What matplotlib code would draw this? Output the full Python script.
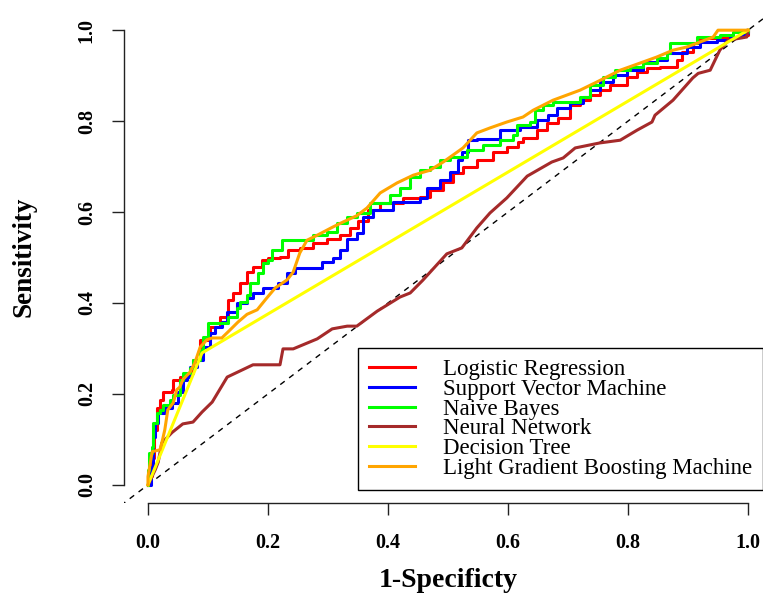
import matplotlib.pyplot as plt

# ROC curves: (1-specificity, sensitivity)
lr_fpr = [0, 0.003, 0.007, 0.01, 0.015, 0.02, 0.025, 0.04, 0.042, 0.053, 0.062, 0.07, 0.075, 0.087, 0.103, 0.12, 0.133,
          0.142, 0.153, 0.165, 0.175, 0.19, 0.2, 0.22, 0.233, 0.253, 0.275, 0.298, 0.32, 0.337, 0.35, 0.367, 0.387,
          0.425, 0.453, 0.47, 0.492, 0.508, 0.525, 0.548, 0.575, 0.598, 0.617, 0.625, 0.648, 0.665, 0.683, 0.703,
          0.72, 0.737, 0.753, 0.77, 0.798, 0.815, 0.832, 0.853, 0.882, 0.89, 0.908, 0.92, 0.96, 0.99, 1]
lr_tpr = [0, 0.02, 0.06, 0.12, 0.17, 0.187, 0.204, 0.209, 0.231, 0.237, 0.24, 0.246, 0.275, 0.319, 0.347, 0.369, 0.407,
          0.422, 0.444, 0.468, 0.479, 0.495, 0.499, 0.501, 0.516, 0.521, 0.532, 0.54, 0.549, 0.565, 0.58, 0.604, 0.62,
          0.631, 0.633, 0.648, 0.666, 0.686, 0.699, 0.714, 0.732, 0.743, 0.754, 0.763, 0.78, 0.796, 0.807, 0.835,
          0.846, 0.857, 0.868, 0.879, 0.897, 0.908, 0.916, 0.919, 0.934, 0.952, 0.971, 0.982, 0.985, 0.99, 1]

svm_fpr = [0, 0.005, 0.008, 0.012, 0.017, 0.028, 0.04, 0.05, 0.058, 0.065, 0.07, 0.082, 0.092, 0.103, 0.112, 0.123,
           0.132, 0.148, 0.165, 0.175, 0.192, 0.217, 0.232, 0.245, 0.283, 0.29, 0.308, 0.32, 0.332, 0.348, 0.358,
           0.375, 0.408, 0.453, 0.465, 0.487, 0.503, 0.517, 0.523, 0.533, 0.548, 0.587, 0.62, 0.648, 0.667, 0.682,
           0.703, 0.725, 0.737, 0.753, 0.775, 0.798, 0.825, 0.848, 0.865, 0.89, 0.898, 0.92, 0.948, 0.97, 0.992, 1]
svm_tpr = [0, 0.04, 0.105, 0.136, 0.158, 0.169, 0.18, 0.204, 0.231, 0.237, 0.259, 0.275, 0.303, 0.334, 0.347, 0.358,
           0.38, 0.4, 0.411, 0.422, 0.433, 0.444, 0.466, 0.477, 0.477, 0.49, 0.499, 0.516, 0.54, 0.554, 0.59,
           0.604, 0.622, 0.631, 0.653, 0.67, 0.688, 0.714, 0.732, 0.758, 0.76, 0.78, 0.787, 0.802, 0.813, 0.829,
           0.84, 0.853, 0.868, 0.886, 0.901, 0.912, 0.93, 0.934, 0.949, 0.949, 0.963, 0.974, 0.978, 0.985, 0.993, 1]

nb_fpr = [0, 0, 0.002, 0.007, 0.008, 0.015, 0.02, 0.025, 0.037, 0.042, 0.053, 0.058, 0.07, 0.075, 0.087, 0.092, 0.1,
          0.12, 0.133, 0.148, 0.153, 0.165, 0.17, 0.183, 0.192, 0.2, 0.207, 0.217, 0.223, 0.265, 0.275, 0.298, 0.315,
          0.332, 0.348, 0.37, 0.403, 0.42, 0.437, 0.453, 0.47, 0.487, 0.503, 0.532, 0.558, 0.587, 0.608, 0.615,
          0.637, 0.645, 0.658, 0.675, 0.72, 0.737, 0.758, 0.778, 0.803, 0.825, 0.848, 0.865, 0.87, 0.892, 0.915,
          0.953, 0.975, 1]
nb_tpr = [0, 0.033, 0.07, 0.084, 0.136, 0.158, 0.165, 0.176, 0.187, 0.198, 0.231, 0.246, 0.257, 0.275, 0.297, 0.325,
          0.356, 0.356, 0.369, 0.389, 0.402, 0.418, 0.444, 0.466, 0.488, 0.495, 0.516, 0.516, 0.538, 0.538, 0.549,
          0.556, 0.576, 0.589, 0.598, 0.62, 0.637, 0.653, 0.677, 0.692, 0.699, 0.714, 0.721, 0.736, 0.747, 0.758,
          0.769, 0.791, 0.798, 0.824, 0.835, 0.842, 0.853, 0.879, 0.897, 0.912, 0.919, 0.927, 0.938, 0.949, 0.971,
          0.971, 0.985, 0.989, 0.996, 1]

nn_fpr = [0, 0.012, 0.017, 0.023, 0.04, 0.058, 0.075, 0.09, 0.107, 0.132, 0.175, 0.22, 0.225, 0.242, 0.282, 0.307,
          0.332, 0.348, 0.382, 0.42, 0.437, 0.458, 0.498, 0.523, 0.548, 0.57, 0.598, 0.632, 0.673, 0.692, 0.712,
          0.753, 0.787, 0.815, 0.84, 0.845, 0.875, 0.908, 0.917, 0.937, 0.953, 0.967, 0.998, 1]
nn_tpr = [0, 0.033, 0.05, 0.092, 0.115, 0.134, 0.138, 0.16, 0.182, 0.237, 0.264, 0.264, 0.299, 0.299, 0.321, 0.343,
          0.349, 0.349, 0.382, 0.413, 0.422, 0.45, 0.508, 0.521, 0.565, 0.598, 0.631, 0.679, 0.71, 0.719, 0.741,
          0.752, 0.758, 0.78, 0.798, 0.813, 0.846, 0.895, 0.905, 0.912, 0.956, 0.978, 0.985, 1]

dt_fpr = [0, 0.09, 1]
dt_tpr = [0, 0.29, 1]

lgbm_fpr = [0, 0, 0.007, 0.02, 0.023, 0.028, 0.033, 0.042, 0.048, 0.053, 0.058, 0.07, 0.078, 0.087, 0.098, 0.107,
            0.123, 0.137, 0.15, 0.165, 0.182, 0.198, 0.212, 0.232, 0.242, 0.253, 0.265, 0.282, 0.308, 0.325, 0.348,
            0.365, 0.387, 0.415, 0.442, 0.47, 0.492, 0.525, 0.548, 0.57, 0.598, 0.625, 0.642, 0.675, 0.72, 0.748,
            0.787, 0.825, 0.848, 0.875, 0.898, 0.942, 0.95, 1]
lgbm_tpr = [0, 0.018, 0.073, 0.077, 0.092, 0.121, 0.165, 0.18, 0.209, 0.215, 0.231, 0.248, 0.268, 0.303, 0.319, 0.323,
            0.323, 0.341, 0.358, 0.375, 0.385, 0.411, 0.433, 0.451, 0.468, 0.51, 0.538, 0.549, 0.567, 0.578, 0.592,
            0.609, 0.642, 0.664, 0.681, 0.692, 0.71, 0.741, 0.774, 0.785, 0.798, 0.809, 0.824, 0.846, 0.868, 0.886,
            0.912, 0.93, 0.941, 0.956, 0.963, 0.985, 1.0, 1]

labels = ["Logistic Regression", "Support Vector Machine", "Naive Bayes",
          "Neural Network", "Decision Tree", "Light Gradient Boosting Machine"]
colors = ["#FF0000", "#0000FF", "#00FF00", "#A52A2A", "#FFFF00", "#FFA500"]
ticks = [0.0, 0.2, 0.4, 0.6, 0.8, 1.0]

serif = ["Liberation Serif", "DejaVu Serif"]

fig = plt.figure(figsize=(7.63, 6.01), dpi=100)
ax = fig.add_axes([124 / 763, 98 / 601, 648 / 763, 491 / 601])
ax.set_xlim(-0.04, 1.04)
ax.set_ylim(-0.04, 1.04)

ax.plot([-0.06, 1.06], [-0.06, 1.06], color="black", lw=1.0, dashes=(4, 4), zorder=1)

lw = 2.2
ax.plot(lr_fpr, lr_tpr, color=colors[0], lw=lw, drawstyle="steps-post", label=labels[0])
ax.plot(svm_fpr, svm_tpr, color=colors[1], lw=lw, drawstyle="steps-post", label=labels[1])
ax.plot(nb_fpr, nb_tpr, color=colors[2], lw=lw, drawstyle="steps-post", label=labels[2])
ax.plot(nn_fpr, nn_tpr, color=colors[3], lw=lw, label=labels[3])
ax.plot(dt_fpr, dt_tpr, color=colors[4], lw=lw, label=labels[4])
ax.plot(lgbm_fpr, lgbm_tpr, color=colors[5], lw=lw, label=labels[5])

for side in ["top", "right"]:
    ax.spines[side].set_visible(False)
for side in ["left", "bottom"]:
    ax.spines[side].set_bounds(0, 1)
    ax.spines[side].set_linewidth(1.0)
    ax.spines[side].set_color("#222222")

ax.set_xticks(ticks)
ax.set_yticks(ticks)
ax.set_xticklabels([f"{t:.1f}" for t in ticks])
ax.set_yticklabels([f"{t:.1f}" for t in ticks])
ax.tick_params(direction="out", length=8.6, width=1.0, color="#222222")
ax.tick_params(axis="x", pad=13)
ax.tick_params(axis="y", pad=11)
for lab in ax.get_xticklabels() + ax.get_yticklabels():
    lab.set_fontfamily(serif)
    lab.set_fontweight("bold")
    lab.set_fontsize(14.5)
for lab in ax.get_yticklabels():
    lab.set_rotation(90)
    lab.set_va("center")

fig.text(448 / 763, (601 - 587) / 601, "1-Specificty", ha="center", va="baseline",
         fontsize=20, fontweight="bold", family=serif)
fig.text(23.5 / 763, (601 - 256.5) / 601, "Sensitivity", ha="center", va="center", rotation=90,
         fontsize=19.5, fontweight="bold", family=serif)

leg = ax.legend(loc="upper left", bbox_to_anchor=(358 / 763, (601 - 348) / 601),
                bbox_transform=fig.transFigure, borderaxespad=0, fancybox=False,
                edgecolor="black", framealpha=1, prop={"family": serif, "size": 16.5},
                handlelength=2.0, handletextpad=1.2, labelspacing=-0.06, borderpad=0.5)
leg.get_frame().set_linewidth(1.0)
for line in leg.get_lines():
    line.set_linewidth(2.2)

fig.savefig("out.png", dpi=100)
